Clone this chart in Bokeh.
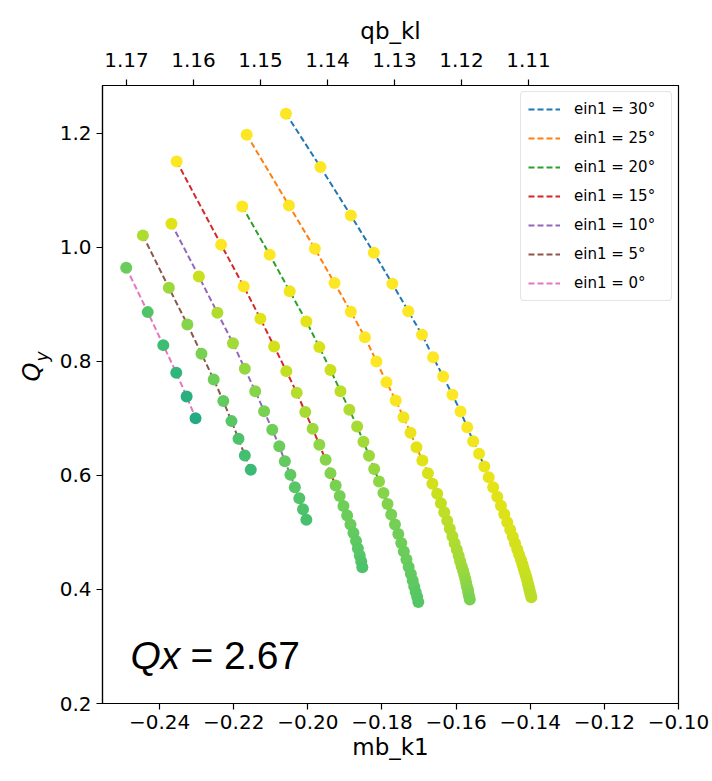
from bokeh.plotting import figure
from bokeh.models import (Range1d, LinearAxis, FixedTicker, CustomJSTickFormatter,
                          Legend, LegendItem, Label, Title, ColumnDataSource)
from bokeh.palettes import Viridis256
from bokeh.transform import linear_cmap
from bokeh.embed import file_html
from bokeh.resources import INLINE

# ---------------- data ----------------
labels = ["ein1 = 30°", "ein1 = 25°", "ein1 = 20°", "ein1 = 15°",
          "ein1 = 10°", "ein1 = 5°", "ein1 = 0°"]
line_colors = ["#1f77b4", "#ff7f0e", "#2ca02c", "#d62728", "#9467bd", "#8c564b", "#e377c2"]

x30 = [-0.2059, -0.1966, -0.1884, -0.1822, -0.1772, -0.1729, -0.1692, -0.1662, -0.1635, -0.1610,
       -0.1588, -0.1570, -0.1554, -0.1538, -0.1524, -0.1512, -0.1500, -0.1489, -0.1479, -0.1470,
       -0.1462, -0.1454, -0.1447, -0.1441, -0.1435, -0.1430, -0.1425, -0.1421, -0.1418, -0.1415,
       -0.1412, -0.1409, -0.1407, -0.1405, -0.1403, -0.1401, -0.1399, -0.1397]
y30 = [1.2346, 1.1409, 1.0561, 0.9907, 0.9363, 0.8882, 0.8468, 0.8075, 0.7737, 0.7416,
       0.7123, 0.6847, 0.6602, 0.6381, 0.6158, 0.5970, 0.5795, 0.5628, 0.5470, 0.5321,
       0.5181, 0.5049, 0.4926, 0.4812, 0.4707, 0.4611, 0.4523, 0.4444, 0.4374, 0.4307,
       0.4244, 0.4184, 0.4128, 0.4075, 0.4023, 0.3970, 0.3918, 0.3865]
c30 = [1.0, 1.0, 1.0, 1.0, 1.0, 1.0, 1.0, 1.0, 1.0, 1.0,
       1.0, 0.99, 0.98, 0.975, 0.97, 0.965, 0.96, 0.955, 0.952, 0.949,
       0.946, 0.943, 0.94, 0.937, 0.934, 0.931, 0.928, 0.925, 0.922, 0.919,
       0.916, 0.913, 0.91, 0.907, 0.904, 0.901, 0.898, 0.895]

x25 = [-0.2165, -0.2051, -0.1981, -0.1928, -0.1884, -0.1846, -0.1815, -0.1788, -0.1763, -0.1742,
       -0.1723, -0.1707, -0.1691, -0.1676, -0.1664, -0.1651, -0.1641, -0.1632, -0.1624, -0.1617,
       -0.1610, -0.1604, -0.1598, -0.1593, -0.1589, -0.1585, -0.1581, -0.1578, -0.1575, -0.1573,
       -0.1571, -0.1568, -0.1567, -0.1565, -0.1563]
y25 = [1.1977, 1.0737, 0.9977, 0.9374, 0.8872, 0.8426, 0.8000, 0.7637, 0.7316, 0.7023,
       0.6749, 0.6496, 0.6263, 0.6040, 0.5854, 0.5679, 0.5512, 0.5354, 0.5205, 0.5065,
       0.4933, 0.4811, 0.4696, 0.4591, 0.4495, 0.4407, 0.4328, 0.4254, 0.4184, 0.4118,
       0.4054, 0.3995, 0.3937, 0.3881, 0.3826]
c25 = [1.0, 1.0, 1.0, 1.0, 1.0, 1.0, 1.0, 1.0, 0.99, 0.98,
       0.97, 0.96, 0.95, 0.94, 0.93, 0.92, 0.91, 0.904, 0.898, 0.892,
       0.886, 0.88, 0.874, 0.868, 0.862, 0.856, 0.85, 0.844, 0.838, 0.832,
       0.826, 0.82, 0.814, 0.808, 0.80]

x20 = [-0.2177, -0.2103, -0.2049, -0.2004, -0.1969, -0.1939, -0.1912, -0.1888, -0.1867, -0.1850,
       -0.1835, -0.1821, -0.1808, -0.1796, -0.1785, -0.1775, -0.1765, -0.1756, -0.1748, -0.1741,
       -0.1734, -0.1728, -0.1722, -0.1717, -0.1713, -0.1709, -0.1705, -0.1702]
y20 = [1.0719, 0.9872, 0.9233, 0.8702, 0.8251, 0.7851, 0.7479, 0.7153, 0.6860, 0.6593,
       0.6346, 0.6114, 0.5896, 0.5693, 0.5500, 0.5316, 0.5140, 0.4974, 0.4816, 0.4667,
       0.4526, 0.4395, 0.4272, 0.4158, 0.4053, 0.3956, 0.3868, 0.3781]
c20 = [1.0, 1.0, 0.98, 0.96, 0.94, 0.92, 0.90, 0.88, 0.87, 0.86,
       0.85, 0.84, 0.83, 0.82, 0.81, 0.80, 0.79, 0.785, 0.78, 0.775,
       0.77, 0.765, 0.76, 0.755, 0.75, 0.745, 0.74, 0.735]

x15 = [-0.2354, -0.2234, -0.2173, -0.2128, -0.2091, -0.2058, -0.2030, -0.2007, -0.1987, -0.1969,
       -0.1952, -0.1939, -0.1925, -0.1914, -0.1904, -0.1894, -0.1885, -0.1877, -0.1870, -0.1865,
       -0.1860, -0.1856, -0.1853]
y15 = [1.1509, 1.0047, 0.9316, 0.8749, 0.8263, 0.7830, 0.7451, 0.7111, 0.6819, 0.6539,
       0.6275, 0.6040, 0.5825, 0.5640, 0.5465, 0.5298, 0.5140, 0.4991, 0.4851, 0.4719,
       0.4596, 0.4491, 0.4391]
c15 = [1.0, 1.0, 0.99, 0.95, 0.93, 0.91, 0.89, 0.87, 0.85, 0.83,
       0.82, 0.81, 0.80, 0.79, 0.78, 0.775, 0.77, 0.76, 0.75, 0.745,
       0.74, 0.73, 0.72]

x10 = [-0.2368, -0.2294, -0.2244, -0.2202, -0.2170, -0.2142, -0.2118, -0.2096, -0.2077, -0.2062,
       -0.2047, -0.2035, -0.2023, -0.2013, -0.2004]
y10 = [1.0416, 0.9491, 0.8854, 0.8321, 0.7872, 0.7479, 0.7128, 0.6802, 0.6514, 0.6251,
       0.6012, 0.5795, 0.5602, 0.5409, 0.5223]
c10 = [0.95, 0.92, 0.88, 0.86, 0.84, 0.82, 0.80, 0.78, 0.77, 0.76,
       0.75, 0.74, 0.73, 0.72, 0.71]

x5 = [-0.2445, -0.2375, -0.2325, -0.2287, -0.2254, -0.2228, -0.2206, -0.2187, -0.2170, -0.2154]
y5 = [1.0211, 0.9293, 0.8649, 0.8135, 0.7684, 0.7304, 0.6953, 0.6644, 0.6351, 0.6100]
c5 = [0.875, 0.85, 0.82, 0.80, 0.78, 0.76, 0.74, 0.72, 0.70, 0.68]

x0 = [-0.2490, -0.2432, -0.2390, -0.2355, -0.2327, -0.2303]
y0 = [0.9644, 0.8865, 0.8286, 0.7802, 0.7386, 0.7005]
c0 = [0.77, 0.73, 0.69, 0.66, 0.63, 0.61]

bottom_ticks = [-0.24, -0.22, -0.20, -0.18, -0.16, -0.14, -0.12, -0.10]
left_ticks = [0.2, 0.4, 0.6, 0.8, 1.0, 1.2]
top_ticks = [1.17, 1.16, 1.15, 1.14, 1.13, 1.12, 1.11]

curves = [(x30, y30, c30), (x25, y25, c25), (x20, y20, c20), (x15, y15, c15),
          (x10, y10, c10), (x5, y5, c5), (x0, y0, c0)]

# ---------------- figure ----------------
FONT = "DejaVu Sans"
p = figure(frame_width=576, frame_height=618,
           min_border_left=102, min_border_right=34, min_border_top=85, min_border_bottom=78,
           x_range=Range1d(-0.2554, -0.10), y_range=Range1d(0.2, 1.284),
           output_backend="svg", toolbar_location=None)
p.extra_x_ranges = {"top": Range1d(1.17358, 1.08761)}
p.xgrid.visible = False
p.ygrid.visible = False
p.outline_line_color = "black"
p.outline_line_width = 1.2
p.background_fill_color = "white"
p.border_fill_color = "white"

bottom_axis = p.below[0]
left_axis = p.left[0]
top_axis = LinearAxis(x_range_name="top")
p.add_layout(top_axis, "above")

def style_axis(ax, ticks, fmt):
    ax.ticker = FixedTicker(ticks=ticks)
    ax.formatter = CustomJSTickFormatter(code=fmt)
    ax.major_label_text_font = FONT
    ax.major_label_text_font_size = "20px"
    ax.major_label_text_color = "black"
    ax.axis_label_text_font = FONT
    ax.axis_label_text_font_size = "23px"
    ax.axis_label_text_font_style = "normal"
    ax.axis_label_text_color = "black"
    ax.axis_line_color = "black"
    ax.axis_line_width = 1.2
    ax.major_tick_line_color = "black"
    ax.major_tick_line_width = 1.2
    ax.major_tick_out = 6
    ax.major_tick_in = 0
    ax.minor_tick_line_color = None
    ax.major_label_standoff = 5

style_axis(bottom_axis, bottom_ticks,
           "return (tick < 0 ? '\u2212' : '') + Math.abs(tick).toFixed(2);")
style_axis(left_axis, left_ticks, "return tick.toFixed(1);")
style_axis(top_axis, top_ticks, "return tick.toFixed(2);")
bottom_axis.axis_label = "mb_k1"
bottom_axis.axis_label_standoff = 2
top_axis.axis_label = "qb_kl"
top_axis.major_label_standoff = 13
top_axis.axis_label_standoff = 6

# y-axis label Q_y: subscript "y" next to the axis, italic "Q" outside it
p.add_layout(Title(text="y", align="right", offset=266, standoff=9,
                   text_font=FONT, text_font_style="italic", text_font_size="17px",
                   text_color="black"), "left")
p.add_layout(Title(text="Q", align="right", offset=277, standoff=-40,
                   text_font=FONT, text_font_style="italic", text_font_size="24px",
                   text_color="black"), "left")

line_renderers = []
for (xs, ys, cs), col in zip(curves, line_colors):
    r = p.line(xs, ys, line_color=col, line_width=2, line_dash="6 3")
    line_renderers.append(r)
for (xs, ys, cs), col in zip(curves, line_colors):
    src = ColumnDataSource(dict(x=xs, y=ys, c=cs))
    p.scatter("x", "y", source=src, size=12, line_color=None,
              fill_color=linear_cmap("c", Viridis256, 0.0, 1.0))

legend = Legend(items=[LegendItem(label=lab, renderers=[r])
                       for lab, r in zip(labels, line_renderers)],
                location="top_right")
legend.label_text_font = FONT
legend.label_text_font_size = "15px"
legend.label_text_color = "black"
legend.border_line_color = "#cccccc"
legend.border_line_width = 1
legend.background_fill_alpha = 0.8
legend.padding = 7
legend.spacing = 9
legend.glyph_width = 32
legend.glyph_height = 20
legend.label_height = 20
legend.label_width = 90
legend.label_standoff = 14
legend.margin = 6
if "border_radius" in Legend.properties():
    legend.border_radius = 4
p.add_layout(legend)

x0r = -0.2554
# annotation Qx = 2.67
p.add_layout(Label(x=x0r, y=0.2, x_offset=28, y_offset=48, text="Qx",
                   text_font="Liberation Sans", text_font_style="italic", text_font_size="39px",
                   text_baseline="alphabetic", text_color="black"))
p.add_layout(Label(x=x0r, y=0.2, x_offset=88, y_offset=48, text="= 2.67",
                   text_font="Liberation Sans", text_font_size="39px",
                   text_baseline="alphabetic", text_color="black"))

open("out.html", "w").write(file_html(p, INLINE))
